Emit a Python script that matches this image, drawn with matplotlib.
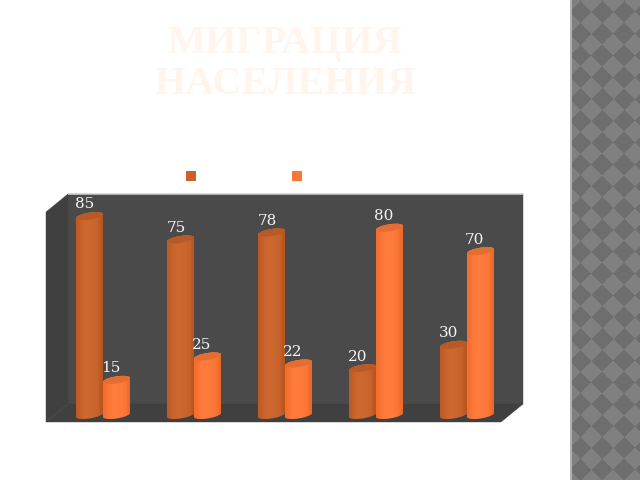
import numpy as np
import matplotlib
matplotlib.use("Agg")
import matplotlib.pyplot as plt
from matplotlib.patches import Polygon, Rectangle

# ---- data ----
series_a = [85, 75, 78, 20, 30]
series_b = [15, 25, 22, 80, 70]
title_lines = ["МИГРАЦИЯ", "НАСЕЛЕНИЯ"]

color_a = "#c8622b"
color_b = "#f97636"
bar_w = 27 / 91
cap_b = 3.5 / 2.34   # half height of the cap
cap_tilt = 2 / 2.34  # caps lean up to the right

fig = plt.figure(figsize=(6.4, 4.8), dpi=100, facecolor="white")

# page layer in pixel coords
bg = fig.add_axes([0, 0, 1, 1])
bg.axis("off")

# checker strip on the right
xx, yy = np.meshgrid(np.arange(571, 640) + 0.5, np.arange(0, 480) + 0.5)
pitch = 21.8
u = np.floor((xx + yy + 7) / pitch)
v = np.floor((xx - yy + 9) / pitch)
checker = ((u + v) % 2 == 0).astype(float)
bg.imshow(checker, extent=(571, 640, 480, 0), cmap="gray", vmin=-6.5, vmax=8.5,
          aspect="auto", interpolation="bilinear")
bg.set_xlim(0, 640)
bg.set_ylim(480, 0)
bg.add_patch(Rectangle((570, 0), 1.5, 480, color="#b0b0b0", lw=0))

# 3D box
bg.add_patch(Polygon([(68, 194), (523, 194), (523, 404), (68, 404)], fc="#4a4a4a", ec="#4a4a4a", lw=0.3))
bg.add_patch(Polygon([(46, 212), (68, 194), (68, 404), (46, 422)], fc="#404040", ec="#404040", lw=0.3))
bg.add_patch(Polygon([(46, 422), (68, 404), (523, 404), (501, 422)], fc="#404040", ec="#404040", lw=0.3))
bg.plot([68, 523], [194, 194], color="#c8c8c8", lw=0.6)

# legend squares, names are not visible in the picture
bg.add_patch(Rectangle((186, 171), 10, 10, color=color_a, lw=0))
bg.add_patch(Rectangle((292, 171), 10, 10, color=color_b, lw=0))

# title, nearly white on white
for line, y in zip(title_lines, [43, 84]):
    bg.text(285, y, line, ha="center", va="center", family="Liberation Serif",
            weight="bold", fontsize=29, color="#fff5ed")

# bars layer, data scale
ax = fig.add_axes([0, 0, 1, 1])
ax.patch.set_alpha(0)
ax.axis("off")
ax.set_xlim(-103 / 91, (640 - 103) / 91)
ax.set_ylim(-65 / 2.34, 415 / 2.34)


def cylinder(x0, h, col):
    # body outline: lower half of the base ellipse, upper half of the cap ellipse
    x1 = x0 + bar_w
    xc = x0 + bar_w / 2
    t = np.linspace(np.pi, 2 * np.pi, 30)
    low = np.column_stack([xc + bar_w / 2 * np.cos(t), cap_b * np.sin(t) + cap_tilt * np.cos(t)])
    t2 = np.linspace(0, np.pi, 30)
    high = np.column_stack([xc + bar_w / 2 * np.cos(t2), h + cap_b * np.sin(t2) + cap_tilt * np.cos(t2)])
    outline = np.vstack([low, high])
    clip = Polygon(outline, fc="none", lw=0, transform=ax.transData)
    ax.add_patch(clip)

    bars = ax.bar(x0, h + cap_b + cap_tilt, bar_w, bottom=0, align="edge", color=col, lw=0)
    bars[0].set_clip_path(clip)

    rgb = np.array(matplotlib.colors.to_rgb(col))
    shade = np.array([-0.03, 0.0, 0.02, 0.025, 0.02, 0.01, 0.0, -0.05])
    grad = np.clip(rgb[None, None, :] + shade[None, :, None], 0, 1)
    im = ax.imshow(grad, extent=(x0, x1, -cap_b - cap_tilt, h + cap_b + cap_tilt),
                   aspect="auto", interpolation="bilinear", zorder=2)
    im.set_clip_path(clip)

    # top cap, a bit darker
    t3 = np.linspace(0, 2 * np.pi, 60)
    cap = np.column_stack([xc + bar_w / 2 * np.cos(t3), h + cap_b * np.sin(t3) + cap_tilt * np.cos(t3)])
    ax.add_patch(Polygon(cap, fc=tuple(rgb * 0.92), lw=0, zorder=3))


for i, (a, b) in enumerate(zip(series_a, series_b)):
    cylinder(i - bar_w, a, color_a)
    cylinder(i, b, color_b)
    ax.annotate(str(a), (i - bar_w / 2, a), xytext=(-3.2, 8.4), textcoords="offset points",
                ha="center", va="center", family="DejaVu Serif", fontsize=11, color="#f4f4f4",
                zorder=5)
    ax.annotate(str(b), (i + bar_w / 2, b), xytext=(-4.3, 8.4), textcoords="offset points",
                ha="center", va="center", family="DejaVu Serif", fontsize=11, color="#f4f4f4",
                zorder=5)
ax.set_xlim(-103 / 91, (640 - 103) / 91)
ax.set_ylim(-65 / 2.34, 415 / 2.34)

fig.savefig("out.png", dpi=100)
